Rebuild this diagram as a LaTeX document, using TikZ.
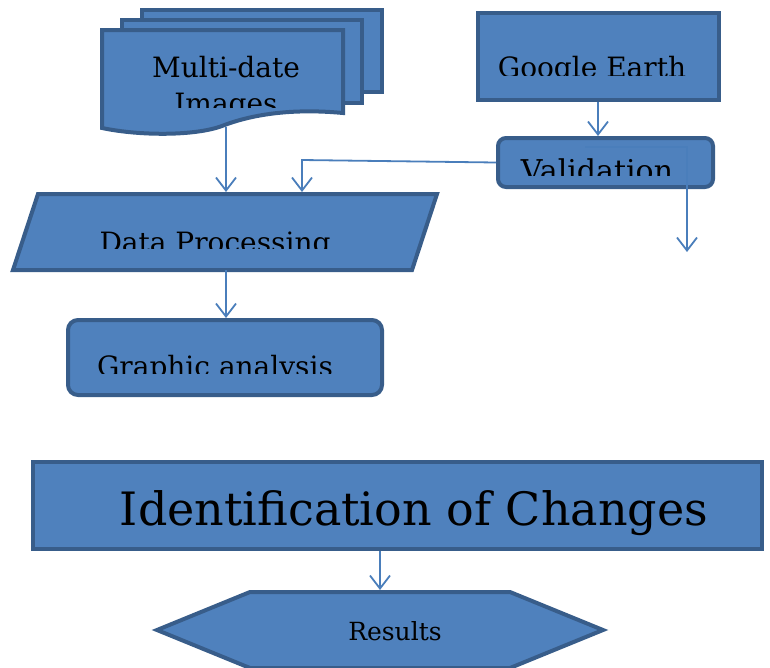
\documentclass[tikz,border=0pt]{standalone}
\usepackage{fontspec}
\setmainfont{DejaVu Serif}
\usetikzlibrary{arrows.meta}
\definecolor{boxfill}{HTML}{4F81BD}
\definecolor{boxline}{HTML}{385D8A}
\definecolor{arrowc}{HTML}{4A7EBB}
\begin{document}
\begin{tikzpicture}[x=1pt,y=-1pt,
  shapebox/.style={draw=boxline, fill=boxfill, line width=4pt, line join=miter},
  rectbox/.style={shapebox, inner sep=0pt, rectangle},
  roundbox/.style={shapebox, inner sep=0pt, rectangle, rounded corners=8pt},
  conn/.style={draw=arrowc, line width=1.8pt, -{Straight Barb[length=13pt,width=20pt]}},
  lbl/.style={font=\fontsize{28}{36}\selectfont, text=black, inner sep=0pt, anchor=base},
  biglbl/.style={font=\fontsize{46}{50}\selectfont, text=black, inner sep=0pt, anchor=base},
  smalllbl/.style={font=\fontsize{25}{30}\selectfont, text=black, inner sep=0pt, anchor=base}]
\useasboundingbox (0,0) rectangle (770,667);
\clip (0,0) rectangle (770,667);

% Multi-date images (stack of documents)
\path[shapebox] (142,10) rectangle (382,92);
\path[shapebox] (122,20) rectangle (362,103);
\path[shapebox] (102,30) -- (343,30) -- (343,113)
  .. controls (290,108) and (250,115) .. (222,126)
  .. controls (195,136) and (140,136) .. (102,128) -- cycle;
\begin{scope}
  \clip (100,30) rectangle (345,107);
  \node[lbl] (mdtext1) at (226,77) {Multi-date};
  \node[lbl] (mdtext2) at (226,113) {Images};
\end{scope}
\coordinate (mdbottom) at (226,127);

% Google Earth
\node[rectbox, minimum width=241pt, minimum height=87pt] (google) at (598.5,56.5) {};
\begin{scope}
  \clip (480,15) rectangle (717,75);
  \node[lbl] (googletext) at (592,77) {Google Earth};
\end{scope}

% Validation
\node[roundbox, minimum width=215pt, minimum height=49pt] (val) at (605.5,162.5) {};
\begin{scope}
  \clip (500,140) rectangle (711,175);
  \node[lbl, font=\fontsize{30}{36}\selectfont] (valtext) at (597,181) {Validation};
\end{scope}

% Data Processing (parallelogram)
\path[shapebox] (38,194) -- (437,194) -- (412,270) -- (13,270) -- cycle;
\begin{scope}
  \clip (40,196) rectangle (430,248);
  \node[lbl] (dptext) at (215,252) {Data Processing};
\end{scope}
\coordinate (dptopA) at (226,192);
\coordinate (dptopB) at (302,192);
\coordinate (dpbottom) at (226,270);

% Graphic analysis
\node[roundbox, minimum width=314pt, minimum height=75pt, rounded corners=10pt] (graph) at (225,357.5) {};
\begin{scope}
  \clip (70,322) rectangle (380,373);
  \node[lbl] (graphtext) at (215,376) {Graphic analysis};
\end{scope}

% Identification of Changes
\node[rectbox, minimum width=729pt, minimum height=87pt] (ident) at (397.5,505.5) {};
\node[biglbl] (identtext) at (414,525) {Identification of Changes};

% Results (hexagon)
\path[shapebox] (250,592) -- (510,592) -- (603,630) -- (510,668) -- (250,668) -- (157,630) -- cycle;
\node[smalllbl] (restext) at (395,640) {Results};
\coordinate (restop) at (380,590);

% Connectors
\draw[conn] (mdbottom) -- (dptopA);
\draw[conn] (google.south -| 598,0) -- (val.north -| 598,0);
\draw[conn] (val.west) -- (302,160) -- (dptopB);
\coordinate (valinner) at (585,147);
\coordinate (valout) at (687,252);
\draw[conn] (valinner) -- (687,147) -- (valout);
\draw[conn] (dpbottom) -- (graph.north -| 226,0);
\draw[conn] (ident.south -| 380,0) -- (restop);
\end{tikzpicture}
\end{document}
